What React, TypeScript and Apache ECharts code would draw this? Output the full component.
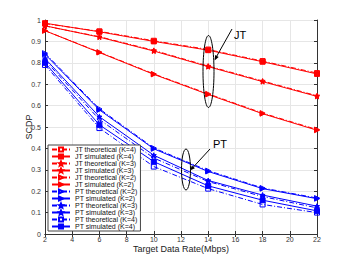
import React, { useEffect, useRef } from "react";
import * as echarts from "echarts";

const xs = [2, 6, 10, 14, 18, 22];
const xTicks = [2, 4, 6, 8, 10, 12, 14, 16, 18, 20, 22];

const jtTheoK4 = [0.983, 0.947, 0.903, 0.862, 0.808, 0.752];
const jtSimK4 = [0.985, 0.945, 0.9, 0.859, 0.805, 0.748];
const jtTheoK3 = [0.972, 0.922, 0.858, 0.785, 0.715, 0.646];
const jtSimK3 = [0.973, 0.92, 0.855, 0.782, 0.712, 0.643];
const jtTheoK2 = [0.95, 0.85, 0.748, 0.655, 0.565, 0.488];
const jtSimK2 = [0.95, 0.848, 0.746, 0.652, 0.562, 0.485];

const ptTheoK2 = [0.845, 0.585, 0.402, 0.296, 0.215, 0.168];
const ptSimK2 = [0.84, 0.58, 0.398, 0.292, 0.212, 0.165];
const ptTheoK3 = [0.812, 0.535, 0.355, 0.245, 0.175, 0.122];
const ptSimK3 = [0.82, 0.548, 0.368, 0.25, 0.182, 0.13];
const ptTheoK4 = [0.79, 0.495, 0.315, 0.212, 0.138, 0.1];
const ptSimK4 = [0.8, 0.51, 0.338, 0.225, 0.158, 0.108];

const RED = "#ff0000";
const BLUE = "#0000ff";
const STAR =
  "path://M0,-10 L2.6,-3.6 L9.5,-3.1 L4.2,1.4 L5.9,8.1 L0,4.4 L-5.9,8.1 L-4.2,1.4 L-9.5,-3.1 L-2.6,-3.6 Z";

type Def = {
  name: string;
  vals: number[];
  color: string;
  symbol: string;
  rotate?: number;
  theo: boolean;
};

const defs: Def[] = [
  { name: "JT theoretical (K=4)", vals: jtTheoK4, color: RED, symbol: "rect", theo: true },
  { name: "JT simulated (K=4)", vals: jtSimK4, color: RED, symbol: "rect", theo: false },
  { name: "JT theoretical (K=3)", vals: jtTheoK3, color: RED, symbol: STAR, theo: true },
  { name: "JT simulated (K=3)", vals: jtSimK3, color: RED, symbol: STAR, theo: false },
  { name: "JT theoretical (K=2)", vals: jtTheoK2, color: RED, symbol: "triangle", rotate: -90, theo: true },
  { name: "JT simulated (K=2)", vals: jtSimK2, color: RED, symbol: "triangle", rotate: -90, theo: false },
  { name: "PT theoretical (K=2)", vals: ptTheoK2, color: BLUE, symbol: "triangle", rotate: -90, theo: true },
  { name: "PT simulated (K=2)", vals: ptSimK2, color: BLUE, symbol: "triangle", rotate: -90, theo: false },
  { name: "PT theoretical (K=3)", vals: ptTheoK3, color: BLUE, symbol: STAR, theo: true },
  { name: "PT simulated (K=3)", vals: ptSimK3, color: BLUE, symbol: STAR, theo: false },
  { name: "PT theoretical (K=4)", vals: ptTheoK4, color: BLUE, symbol: "rect", theo: true },
  { name: "PT simulated (K=4)", vals: ptSimK4, color: BLUE, symbol: "rect", theo: false },
];

const FONT = "Liberation Sans";

export default function App() {
  const ref = useRef<HTMLDivElement>(null);
  useEffect(() => {
    document.body.style.margin = "0";
    const chart = echarts.init(ref.current!, undefined, { renderer: "svg" });
    const series = defs.map((d) => ({
      type: "line",
      name: d.name,
      data: xs.map((x, i) => [x, d.vals[i]]),
      symbol: d.symbol,
      symbolSize: 5,
      symbolRotate: d.rotate || 0,
      showAllSymbol: true,
      lineStyle: {
        color: d.color,
        width: 1,
        type: d.theo ? [5, 2, 1, 2] : "solid",
      },
      itemStyle: {
        color: d.theo ? "rgba(255,255,255,0)" : d.color,
        borderColor: d.color,
        borderWidth: 1,
      },
      emphasis: { disabled: true },
    }));
    const axisCommon = {
      type: "value",
      axisLine: { show: true, lineStyle: { color: "#333", width: 1 } },
      axisTick: { show: true, inside: true, length: 3, lineStyle: { color: "#333" } },
    };
    chart.setOption({
      animation: false,
      textStyle: { fontFamily: FONT },
      grid: { left: 45, top: 20, right: 33, bottom: 29 },
      xAxis: [
        {
          ...axisCommon,
          min: 2,
          max: 22,
          interval: 2,
          position: "bottom",
          name: "Target Data Rate(Mbps)",
          nameLocation: "middle",
          nameGap: 10,
          nameMoveOverlap: false,
          nameTextStyle: { fontSize: 9, color: "#222", fontFamily: FONT, verticalAlign: "top", lineHeight: 9 },
          axisLabel: {
            fontSize: 7,
            lineHeight: 7,
            color: "#333",
            margin: 2,
            fontFamily: FONT,
            formatter: (v: number) => (xTicks.includes(v) ? String(v) : ""),
          },
          splitLine: { show: true, lineStyle: { color: "#e6e6e6", width: 1 } },
        },
        {
          ...axisCommon,
          min: 2,
          max: 22,
          interval: 2,
          position: "top",
          axisLabel: { show: false },
          splitLine: { show: false },
        },
      ],
      yAxis: [
        {
          ...axisCommon,
          min: 0,
          max: 1,
          interval: 0.1,
          position: "left",
          name: "SCDP",
          nameLocation: "middle",
          nameGap: 12,
          nameMoveOverlap: false,
          nameTextStyle: { fontSize: 9, color: "#222", fontFamily: FONT },
          axisLabel: {
            fontSize: 7,
            color: "#333",
            margin: 4,
            fontFamily: FONT,
            formatter: (v: number) => (v === 0 || v === 1 ? String(v) : v.toFixed(1)),
          },
          splitLine: { show: true, lineStyle: { color: "#e6e6e6", width: 1 } },
        },
        {
          ...axisCommon,
          min: 0,
          max: 1,
          interval: 0.1,
          position: "right",
          axisLabel: { show: false },
          splitLine: { show: false },
        },
      ],
      legend: {
        orient: "vertical",
        left: 48,
        top: 145,
        padding: [1, 3, 1, 3],
        itemWidth: 18,
        itemHeight: 5,
        itemGap: 0,
        borderColor: "#444",
        borderWidth: 1,
        backgroundColor: "#fff",
        selectedMode: false,
        textStyle: { fontSize: 7, lineHeight: 7, color: "#111", fontFamily: FONT },
        data: defs.map((d) => d.name),
      },
      graphic: [
        { type: "ellipse", shape: { cx: 208.5, cy: 71.5, rx: 5.5, ry: 36 }, style: { fill: "none", stroke: "#000", lineWidth: 1 }, z: 100 },
        { type: "line", shape: { x1: 232, y1: 29, x2: 216, y2: 57.5 }, style: { stroke: "#000", lineWidth: 1 }, z: 100 },
        { type: "polygon", shape: { points: [[214.5, 60.5], [218.7, 57.1], [215.2, 55.1]] }, style: { fill: "#000" }, z: 100 },
        { type: "text", x: 234, y: 35, style: { text: "JT", fontSize: 11, fontFamily: FONT, fill: "#000", verticalAlign: "middle" }, z: 100 },
        { type: "ellipse", shape: { cx: 186, cy: 169.5, rx: 4.5, ry: 20.5 }, style: { fill: "none", stroke: "#000", lineWidth: 1 }, z: 100 },
        { type: "line", shape: { x1: 210, y1: 149, x2: 192.5, y2: 168 }, style: { stroke: "#000", lineWidth: 1 }, z: 100 },
        { type: "polygon", shape: { points: [[190, 170.5], [194.9, 168.2], [191.9, 165.4]] }, style: { fill: "#000" }, z: 100 },
        { type: "text", x: 213, y: 144, style: { text: "PT", fontSize: 11, fontFamily: FONT, fill: "#000", verticalAlign: "middle" }, z: 100 },
      ],
      series,
    });
    return () => chart.dispose();
  }, []);
  return (
    <div
      ref={ref}
      style={{ position: "absolute", left: 0, top: 0, width: 350, height: 263, background: "#fff" }}
    />
  );
}
